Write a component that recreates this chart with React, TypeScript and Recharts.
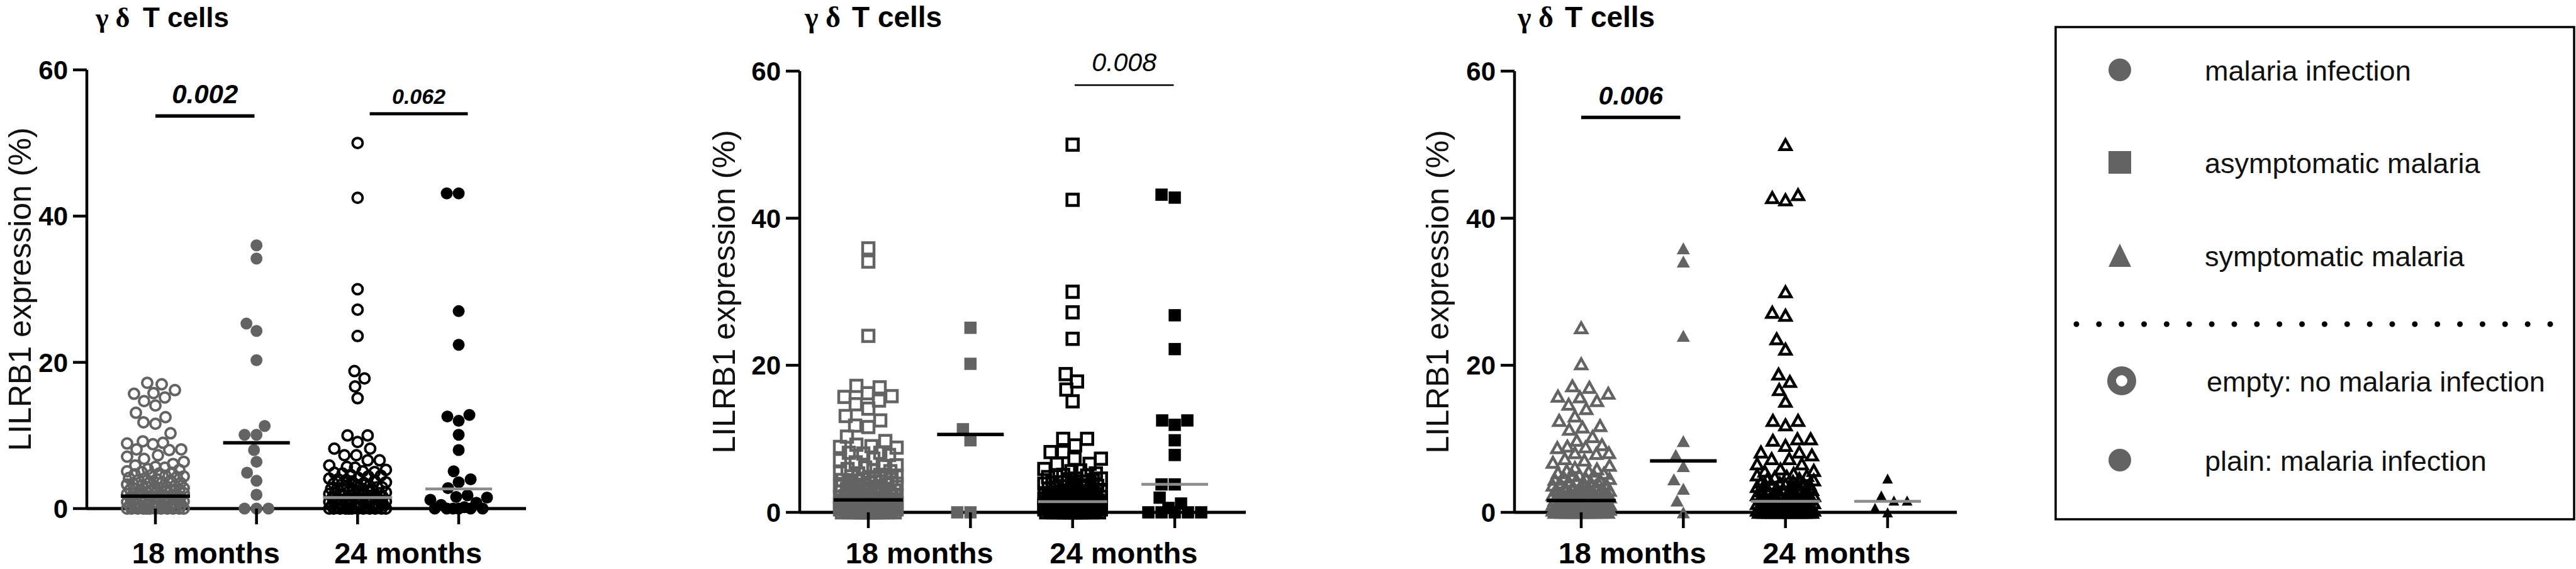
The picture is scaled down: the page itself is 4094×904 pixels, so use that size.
import React from 'react';
import { ScatterChart, Scatter, XAxis, YAxis, ReferenceLine } from 'recharts';

// ---------- data ----------
const CATEGORIES = ['18 months', '24 months'];
const CATEGORY_TICKS = [1.5, 3.5];
const GROUP_SLOTS = [1, 2, 3, 4];
const Y_TICKS = [0, 20, 40, 60];
const TITLE_GREEK = 'γ δ';
const TITLE_REST = 'T cells';
const Y_LABEL = 'LILRB1 expression (%)';

const LEGEND_ITEMS = ['malaria infection', 'asymptomatic malaria', 'symptomatic malaria'];
const LEGEND_FILL = ['empty: no malaria infection', 'plain: malaria infection'];

// 18 months, no malaria infection
const M18_NONE = [
  17.2, 17.0, 16.2, 15.8, 15.7, 15.2, 14.7, 14.1, 13.1, 12.5, 11.8, 11.6, 10.3, 9.2, 9.0, 8.9, 8.8, 8.1, 8.1, 8.0,
  7.3, 7.1, 6.8, 6.4, 6.1, 5.9, 5.7, 5.6, 5.4, 5.3, 5.1, 5.0, 4.9, 4.8, 4.7, 4.6, 4.5, 4.4, 4.3, 4.2, 4.1, 4.0,
  3.9, 3.8, 3.7, 3.6, 3.5, 3.4, 3.3, 3.2, 3.1, 3.0, 3.0, 2.9, 2.8, 2.8, 2.7, 2.6, 2.6, 2.5, 2.4, 2.4, 2.3, 2.2,
  2.2, 2.1, 2.0, 2.0, 1.9, 1.9, 1.8, 1.8, 1.7, 1.7, 1.6, 1.6, 1.5, 1.5, 1.4, 1.4, 1.3, 1.3, 1.2, 1.2, 1.1, 1.1,
  1.0, 1.0, 0.9, 0.9, 0.8, 0.8, 0.7, 0.7, 0.6, 0.6, 0.5, 0.5, 0.4, 0.4, 0.3, 0.3, 0.2, 0.2, 0.1, 0.1,
  0, 0, 0, 0, 0, 0, 0, 0, 0, 0, 0, 0,
];
// 18 months, any malaria infection
const M18_INF = [36.0, 34.2, 25.3, 24.3, 20.3, 11.3, 10.1, 10.1, 8.0, 6.4, 4.9, 3.8, 1.9, 0, 0, 0];
// 18 months, asymptomatic malaria
const M18_ASYMP = [25.1, 20.2, 11.3, 9.8, 0, 0];
// 18 months, symptomatic malaria
const M18_SYMP = [35.9, 34.1, 24.0, 9.7, 7.8, 6.3, 4.5, 3.2, 1.6, 0];

// 24 months, no malaria infection
const M24_NONE = [
  50.0, 42.5, 30.0, 27.2, 23.6, 18.8, 17.8, 16.7, 15.1, 10.0, 10.0, 9.1, 8.2, 8.2, 7.3, 7.3, 6.6, 6.6, 5.9, 5.7,
  5.6, 5.3, 5.1, 5.0, 4.9, 4.8, 4.6, 4.5, 4.4, 4.2, 4.1, 4.0,
  3.9, 3.8, 3.7, 3.6, 3.5, 3.4, 3.3, 3.2, 3.1, 3.0, 2.9, 2.9, 2.8, 2.7, 2.7, 2.6, 2.5, 2.5, 2.4, 2.3, 2.3, 2.2,
  2.1, 2.1, 2.0, 1.9, 1.9, 1.8, 1.8, 1.7, 1.6, 1.6, 1.5, 1.5, 1.4, 1.4, 1.3, 1.3, 1.2, 1.2, 1.1, 1.1, 1.0, 1.0,
  0.9, 0.9, 0.8, 0.8, 0.7, 0.7, 0.6, 0.6, 0.5, 0.5, 0.4, 0.4, 0.3, 0.3, 0.2, 0.2, 0.1, 0.1,
  0, 0, 0, 0, 0, 0, 0, 0, 0, 0, 0, 0,
];
// 24 months, any malaria infection
const M24_INF = [43.1, 43.1, 27.0, 22.4, 12.8, 12.6, 12.0, 10.1, 8.0, 5.1, 4.0, 3.6, 2.8, 1.8, 1.6, 1.5, 1.2, 0.8, 0.5, 0.2, 0, 0, 0, 0, 0, 0];
// 24 months, asymptomatic malaria
const M24_ASYMP = [43.2, 42.8, 26.8, 22.2, 12.5, 12.5, 11.9, 9.8, 7.8, 3.8, 3.8, 2.0, 1.2, 0.6, 0, 0, 0, 0, 0];
// 24 months, symptomatic malaria
const M24_SYMP = [4.6, 2.3, 1.6, 1.6, 0.6, 0];

// "no ..." groups of panels 2 and 3 also hold the children with the other malaria form
const M18_NO_ASYMP = [...M18_NONE, ...M18_SYMP];
const M18_NO_SYMP = [...M18_NONE, ...M18_ASYMP];
const M24_NO_ASYMP = [...M24_NONE, ...M24_SYMP];
const M24_NO_SYMP = [...M24_NONE, ...M24_ASYMP];

const MEDIANS_INF = [1.7, 9.0, 1.5, 2.7];
const MEDIANS_ASYMP = [1.7, 10.6, 1.45, 3.8];
const MEDIANS_SYMP = [1.6, 7.0, 1.5, 1.5];

const P_INF = ['0.002', '0.062'];
const P_ASYMP = ['0.008'];
const P_SYMP = ['0.006'];

// ---------- styles / layout ----------
const SANS = '"Liberation Sans", Arial, Helvetica, sans-serif';
const SERIF = '"Liberation Serif", "DejaVu Serif", serif';
const GRAY = '#636363';
const LIGHT = '#8c8c8c';
const X_TICKS = [1, 1.5, 2, 3, 3.5, 4];

type Kind = 'circle' | 'square' | 'triangle';

function swarm(values: number[], center: number, xPx: number, yPx: number, diam: number, maxOff: number) {
  const vals = [...values].sort((a, b) => a - b);
  const placed: { px: number; py: number }[] = [];
  const cands: number[] = [0];
  for (let k = 1; k <= maxOff; k++) cands.push(-k, k);
  return vals.map((v) => {
    const py = v * yPx;
    let chosen: number | null = null;
    let best = 0;
    let bestD = -1;
    for (const c of cands) {
      let md = Infinity;
      for (const p of placed) {
        const dy = p.py - py;
        if (Math.abs(dy) >= diam) continue;
        const d = Math.hypot(p.px - c, dy);
        if (d < md) md = d;
      }
      if (md >= diam) {
        chosen = c;
        break;
      }
      if (md > bestD + 1e-9) {
        bestD = md;
        best = c;
      }
    }
    const off = chosen === null ? best : chosen;
    placed.push({ px: off, py });
    return { x: center + off / xPx, y: v };
  });
}

function Marker({ cx, cy, kind, filled, color, small }: any) {
  if (cx == null || cy == null) return null;
  if (kind === 'circle') {
    return filled ? (
      <circle cx={cx} cy={cy} r={9.5} fill={color} />
    ) : (
      <circle cx={cx} cy={cy} r={8} fill="none" stroke={color} strokeWidth={4} />
    );
  }
  if (kind === 'square') {
    return filled ? (
      <rect x={cx - 9.75} y={cy - 9.75} width={19.5} height={19.5} fill={color} />
    ) : (
      <rect x={cx - 9} y={cy - 9} width={18} height={18} fill="none" stroke={color} strokeWidth={4.5} />
    );
  }
  const w = filled ? (small ? 17 : 21) : 18;
  const h = filled ? (small ? 16 : 19) : 16;
  const d = `M${cx},${cy - h / 2} L${cx + w / 2},${cy + h / 2} L${cx - w / 2},${cy + h / 2} Z`;
  return filled ? (
    <path d={d} fill={color} />
  ) : (
    <path d={d} fill="none" stroke={color} strokeWidth={4.5} strokeLinejoin="miter" />
  );
}

type PanelCfg = {
  left: number;
  width: number;
  axisX: number;
  plotRight: number;
  top: number;
  bottom: number;
  domain: [number, number];
  kind: Kind;
  groups: number[][];
  medians: number[];
  sigs: { from: number; to: number; level: number; text: string; bold: boolean; size: number; width: number; offset: number }[];
};

function Panel({ cfg }: { cfg: PanelCfg }) {
  const xPx = (cfg.plotRight - cfg.axisX) / (cfg.domain[1] - cfg.domain[0]);
  const yPx = (cfg.bottom - cfg.top) / 60;
  const diam = cfg.kind === 'circle' ? 19 : 21;
  const styles = [
    { filled: false, color: GRAY },
    { filled: true, color: GRAY },
    { filled: false, color: '#000' },
    { filled: true, color: '#000', small: cfg.kind === 'triangle' },
  ];
  const series = cfg.groups.map((vals, i) => swarm(vals, GROUP_SLOTS[i], xPx, yPx, diam, 45));
  const medianData = GROUP_SLOTS.map((g, i) => ({ x: g, y: cfg.medians[i] }));
  const labelDy = 895 - cfg.bottom;

  const XTick = (props: any) => {
    const { x, y, payload } = props;
    const v = payload.value;
    const ci = CATEGORY_TICKS.indexOf(v);
    if (ci < 0) return <line x1={x} x2={x} y1={y} y2={y + 25} stroke="#000" strokeWidth={4.5} />;
    return (
      <text x={x} y={y + labelDy} textAnchor="middle" fontFamily={SANS} fontWeight="bold" fontSize={47} fill="#000">
        {CATEGORIES[ci]}
      </text>
    );
  };

  const MedianShape = (p: any) => {
    if (p.cx == null) return null;
    const i = GROUP_SLOTS.indexOf(p.payload.x);
    const half = i % 2 === 0 ? 55 : 53;
    const black = i < 2;
    return (
      <line
        x1={p.cx - half}
        x2={p.cx + half}
        y1={p.cy}
        y2={p.cy}
        stroke={black ? '#000' : LIGHT}
        strokeWidth={black ? 5.5 : 4.5}
      />
    );
  };

  return (
    <div style={{ position: 'absolute', left: cfg.left, top: 0 }}>
      <ScatterChart
        width={cfg.width}
        height={904}
        margin={{ top: cfg.top, right: cfg.width - cfg.plotRight, bottom: 0, left: 0 }}
      >
        <XAxis
          type="number"
          dataKey="x"
          domain={cfg.domain}
          ticks={X_TICKS}
          interval={0}
          height={904 - cfg.bottom}
          tickLine={false}
          tickSize={0}
          tickMargin={0}
          axisLine={{ stroke: '#000', strokeWidth: 5 }}
          tick={(p: any) => <XTick {...p} />}
        />
        <YAxis
          type="number"
          dataKey="y"
          domain={[0, 60]}
          ticks={Y_TICKS}
          interval={0}
          width={cfg.axisX}
          tickSize={22}
          tickMargin={8}
          tickLine={{ stroke: '#000', strokeWidth: 4.5 }}
          axisLine={{ stroke: '#000', strokeWidth: 4.5 }}
          tick={{ fontFamily: SANS, fontWeight: 'bold', fontSize: 42, fill: '#000' }}
        />
        {series.map((data, i) => (
          <Scatter
            key={i}
            data={data}
            isAnimationActive={false}
            shape={(p: any) => <Marker cx={p.cx} cy={p.cy} kind={cfg.kind} {...styles[i]} />}
          />
        ))}
        <Scatter data={medianData} isAnimationActive={false} shape={MedianShape} />
        {cfg.sigs.map((s, i) => (
          <ReferenceLine
            key={`s${i}`}
            segment={[
              { x: s.from, y: s.level },
              { x: s.to, y: s.level },
            ]}
            stroke="#000"
            strokeWidth={s.width}
            label={{
              value: s.text,
              position: 'top',
              offset: s.offset,
              fontFamily: SANS,
              fontSize: s.size,
              fontWeight: s.bold ? 'bold' : 'normal',
              fontStyle: 'italic',
              fill: '#000',
            }}
          />
        ))}
      </ScatterChart>
    </div>
  );
}

const PANELS: PanelCfg[] = [
  {
    left: 0,
    width: 900,
    axisX: 138,
    plotRight: 836,
    top: 111,
    bottom: 808,
    domain: [0.3216, 4.666],
    kind: 'circle',
    groups: [M18_NONE, M18_INF, M24_NONE, M24_INF],
    medians: MEDIANS_INF,
    sigs: [
      { from: 1, to: 1.98, level: 53.7, text: P_INF[0], bold: true, size: 42, width: 5.5, offset: 20 },
      { from: 3.12, to: 4.09, level: 54.0, text: P_INF[1], bold: true, size: 34, width: 5, offset: 16 },
    ],
  },
  {
    left: 1000,
    width: 1050,
    axisX: 271,
    plotRight: 980,
    top: 113,
    bottom: 814,
    domain: [0.3285, 4.696],
    kind: 'square',
    groups: [M18_NO_ASYMP, M18_ASYMP, M24_NO_ASYMP, M24_ASYMP],
    medians: MEDIANS_ASYMP,
    sigs: [{ from: 3.02, to: 3.99, level: 58.1, text: P_ASYMP[0], bold: false, size: 41, width: 2.5, offset: 22 }],
  },
  {
    left: 2080,
    width: 1100,
    axisX: 327,
    plotRight: 1030,
    top: 113,
    bottom: 814,
    domain: [0.347, 4.678],
    kind: 'triangle',
    groups: [M18_NO_SYMP, M18_SYMP, M24_NO_SYMP, M24_SYMP],
    medians: MEDIANS_SYMP,
    sigs: [{ from: 1, to: 1.97, level: 53.7, text: P_SYMP[0], bold: true, size: 41, width: 5.5, offset: 21 }],
  },
];

const TITLES = [
  { g: 152, t: 227, size: 44, labelX: 32 },
  { g: 1279, t: 1354, size: 46, labelX: 1151 },
  { g: 2412, t: 2487, size: 46, labelX: 2285 },
];

function Overlay() {
  const rows = [111, 258, 406];
  return (
    <svg width={4094} height={904} style={{ position: 'absolute', left: 0, top: 0, pointerEvents: 'none' }}>
      {TITLES.map((t, i) => {
        const p = PANELS[i];
        const cy = (p.top + p.bottom) / 2;
        return (
          <g key={i}>
            <text x={t.g} y={43} fontFamily={SERIF} fontWeight="bold" fontSize={t.size} fill="#000">
              {TITLE_GREEK}
            </text>
            <text x={t.t} y={43} fontFamily={SANS} fontWeight="bold" fontSize={t.size} fill="#000">
              {TITLE_REST}
            </text>
            <text
              x={t.labelX}
              y={cy}
              transform={`rotate(-90 ${t.labelX} ${cy})`}
              textAnchor="middle"
              dominantBaseline="central"
              fontFamily={SANS}
              fontSize={50}
              fill="#111"
            >
              {Y_LABEL}
            </text>
          </g>
        );
      })}
      {/* legend box */}
      <rect x={3267} y={43} width={824} height={782} fill="none" stroke="#000" strokeWidth={3.5} />
      <circle cx={3369} cy={rows[0]} r={18} fill={GRAY} />
      <rect x={3351} y={rows[1] - 18} width={36} height={36} fill={GRAY} />
      <path d={`M3369,${rows[2] - 19} L3387,${rows[2] + 18} L3351,${rows[2] + 18} Z`} fill={GRAY} />
      {LEGEND_ITEMS.map((s, i) => (
        <text key={s} x={3504} y={rows[i] + 17} fontFamily={SANS} fontSize={45} fill="#111">
          {s}
        </text>
      ))}
      <line
        x1={3300}
        x2={4053}
        y1={515}
        y2={515}
        stroke="#000"
        strokeWidth={9}
        strokeLinecap="round"
        strokeDasharray={`0 ${753 / 21}`}
      />
      <circle cx={3372} cy={605} r={16} fill="none" stroke={GRAY} strokeWidth={14} />
      <circle cx={3369} cy={731} r={18} fill={GRAY} />
      <text x={3507} y={605 + 17} fontFamily={SANS} fontSize={45} fill="#111">
        {LEGEND_FILL[0]}
      </text>
      <text x={3504} y={731 + 17} fontFamily={SANS} fontSize={45} fill="#111">
        {LEGEND_FILL[1]}
      </text>
    </svg>
  );
}

export default function App() {
  return (
    <div style={{ position: 'absolute', left: 0, top: 0, width: 4094, height: 904, background: '#fff', overflow: 'hidden' }}>
      {PANELS.map((cfg, i) => (
        <Panel key={i} cfg={cfg} />
      ))}
      <Overlay />
    </div>
  );
}
